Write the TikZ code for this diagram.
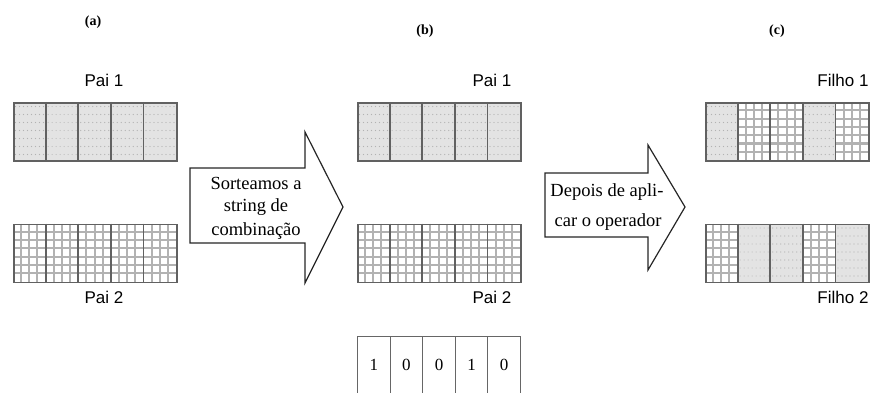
\documentclass[tikz,border=0pt]{standalone}
\usepackage{fontspec}
\setmainfont{Liberation Serif}
\newfontfamily\labelsans{Liberation Sans}

\tikzset{
  blockbox/.style={draw=black!62, line width=1.8pt, fill=none, inner sep=0pt,
    minimum width=163pt, minimum height=58pt, anchor=north west},
  cellsep/.style={draw=black!62, line width=1.8pt},
  gridline/.style={draw=gray!60, line width=2pt},
  dotmark/.style={fill=gray!60},
  bigarrow/.style={draw=black!85, line width=1.2pt, fill=white, line join=miter},
  captext/.style={font=\labelsans\fontsize{17}{17}\selectfont, inner sep=0pt},
  arrowtext/.style={font=\fontsize{18.5}{18.5}\selectfont, inner sep=0pt},
  tagtext/.style={font=\fontsize{14}{14}\selectfont\bfseries, inner sep=0pt},
  bitbox/.style={draw=black!60, line width=1pt, inner sep=0pt,
    minimum width=32.6pt, minimum height=57pt, anchor=north west,
    font=\fontsize{17}{17}\selectfont},
}

% dotted light grey cell (top-left corner given)
\newcommand\dcell[2]{%
  \fill[gray!22] (#1,#2) rectangle ++(32.6,58);
  \foreach \r in {0,...,6}{\foreach \c in {0,...,7}{%
    \fill[dotmark] ({#1+2.5+\c*4},{#2+4.5+\r*8}) circle (0.6);}}%
}
% checked grid cell
\newcommand\gcell[2]{%
  \fill[white] (#1,#2) rectangle ++(32.6,58);
  \foreach \c in {1,2,3}{\draw[gridline] ({#1+\c*8.15},#2) -- ++(0,58);}%
  \foreach \r in {1,...,6}{\draw[gridline] (#1,{#2+\r*8.3}) -- ++(32.6,0);}%
}
% a chromosome of five cells: name, left x, top y, list of cell kinds
\newcommand\chromo[4]{%
  \foreach \t [count=\i from 0] in {#4}{%
    \pgfmathsetmacro\xx{#2+\i*32.6}%
    \csname\t cell\endcsname{\xx}{#3}}%
  \foreach \i in {1,...,4}{\draw[cellsep] ({#2+\i*32.6},#3) -- ++(0,58);}%
  \node[blockbox] (#1) at (#2,#3) {};%
}

\begin{document}
\begin{tikzpicture}[x=1pt,y=-1pt]
\useasboundingbox (0,0) rectangle (875,393);

% panel tags
\node[tagtext] (taga) at (93,22) {(a)};
\node[tagtext] (tagb) at (425,31) {(b)};
\node[tagtext] (tagc) at (777,31) {(c)};

% (a) parents
\chromo{pa1}{13}{102}{d,d,d,d,d}
\chromo{pa2}{13}{223.5}{g,g,g,g,g}
\node[captext] (lpa1) at (104,80) {Pai 1};
\node[captext] (lpa2) at (104,297) {Pai 2};

% first big arrow
\draw[bigarrow] (190,168) -- (305,168) -- (305,132) -- (343,207)
  -- (305,283) -- (305,243) -- (190,243) -- cycle;
\node[arrowtext] (t1) at (256,183) {Sorteamos a};
\node[arrowtext] (t2) at (256,207) {string de};
\node[arrowtext] (t3) at (256,231) {combinação};

% (b) parents and mask
\chromo{pb1}{357}{102}{d,d,d,d,d}
\chromo{pb2}{357}{223.5}{g,g,g,g,g}
\node[captext] (lpb1) at (492,80) {Pai 1};
\node[captext] (lpb2) at (492,297) {Pai 2};
\foreach \b [count=\i from 0] in {1,0,0,1,0}{%
  \node[bitbox] (bit\i) at ({357+\i*32.6},335.5) {\b};}

% second big arrow
\draw[bigarrow] (545,173) -- (648,173) -- (648,145) -- (685,207)
  -- (648,270) -- (648,237) -- (545,237) -- cycle;
\node[arrowtext] (t4) at (607,192) {Depois de apli-};
\node[arrowtext] (t5) at (608,222) {car o operador};

% (c) children
\chromo{pc1}{705}{102}{d,g,g,d,g}
\chromo{pc2}{705}{223.5}{g,d,d,g,d}
\node[captext] (lpc1) at (843,80) {Filho 1};
\node[captext] (lpc2) at (843,297) {Filho 2};
\end{tikzpicture}
\end{document}
